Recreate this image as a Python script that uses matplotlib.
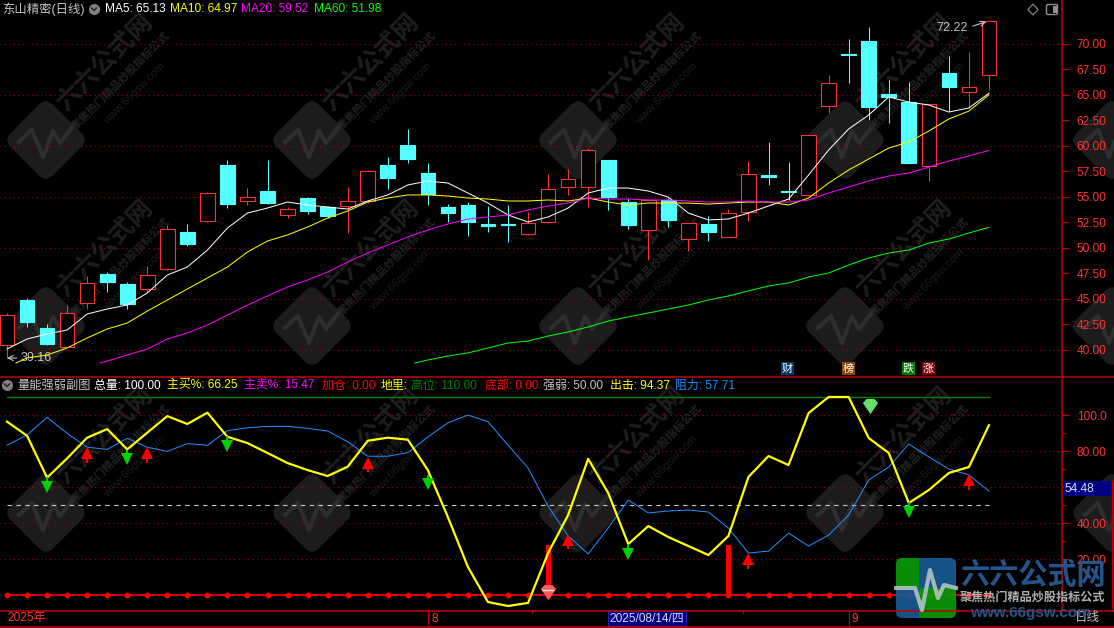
# -*- coding: utf-8 -*-
import matplotlib
matplotlib.use("Agg")
import matplotlib.pyplot as plt
import numpy as np
from matplotlib.patches import FancyBboxPatch, Rectangle, Polygon
from matplotlib.transforms import Affine2D

plt.rcParams['font.family'] = ['Liberation Sans', 'Noto Sans CJK SC']

# price panel
opens = [40.44, 44.85, 42.11, 40.28, 44.53, 47.40, 46.42, 45.96, 47.90, 51.52,
         52.60, 58.09, 54.56, 55.54, 53.19, 54.85, 53.97, 54.07, 54.56, 58.09,
         60.05, 57.30, 53.97, 54.17, 52.30, 52.30, 51.32, 52.53, 55.96, 55.96,
         58.58, 54.46, 51.74, 54.66, 50.80, 52.30, 51.06, 53.50, 57.10, 55.55,
         55.12, 63.90, 69.00, 70.25, 65.05, 64.26, 58.02, 67.08, 65.20, 66.88]
closes = [43.35, 42.73, 40.54, 43.55, 46.49, 46.65, 44.46, 47.27, 51.82, 50.34,
          55.31, 54.26, 54.98, 54.36, 53.78, 53.58, 53.10, 54.56, 57.50, 56.81,
          58.67, 55.25, 53.38, 52.53, 52.10, 52.20, 52.37, 55.71, 56.69, 59.53,
          54.95, 52.20, 54.66, 52.70, 52.37, 51.52, 53.35, 57.18, 56.95, 55.40,
          61.00, 66.10, 68.90, 63.80, 64.80, 58.30, 64.04, 65.76, 65.70, 72.20]
highs = [43.58, 45.05, 42.50, 44.36, 47.20, 47.60, 46.62, 48.20, 52.20, 52.30,
         55.40, 58.58, 55.80, 58.58, 53.97, 54.95, 54.07, 55.90, 57.60, 58.87,
         61.62, 58.28, 54.26, 54.46, 54.07, 54.17, 53.48, 57.20, 57.67, 59.75,
         58.58, 54.85, 54.66, 54.85, 52.40, 53.10, 53.77, 58.48, 60.34, 58.40,
         61.03, 66.90, 70.40, 71.60, 66.40, 66.20, 64.07, 68.77, 69.17, 72.22]
lows = [39.16, 42.24, 40.40, 40.25, 44.00, 45.67, 44.00, 45.57, 47.80, 50.15,
        52.50, 53.90, 54.20, 54.30, 52.90, 53.30, 52.90, 51.40, 54.36, 55.74,
        58.28, 54.17, 52.50, 51.13, 51.50, 50.54, 51.20, 52.43, 55.15, 53.97,
        53.68, 51.80, 48.77, 52.00, 49.66, 50.64, 51.00, 52.60, 56.13, 54.66,
        54.95, 63.20, 66.16, 62.50, 62.20, 58.30, 56.50, 63.40, 63.65, 65.44]

ma5 = [40.05, 41.03, 41.52, 41.91, 43.48, 43.97, 44.36, 45.54, 47.30, 48.09,
       49.75, 51.91, 53.38, 53.87, 54.46, 54.17, 53.97, 53.77, 54.56, 55.15,
       56.13, 56.52, 56.32, 55.34, 54.36, 53.19, 52.50, 52.99, 53.87, 55.34,
       55.83, 55.83, 55.54, 54.95, 53.38, 52.70, 52.80, 53.38, 54.07, 54.75,
       57.11, 59.56, 61.62, 62.99, 64.76, 64.26, 63.97, 63.28, 63.68, 65.13]
ma10_days = [0.45] + list(range(1, 50))
ma10 = [38.68, 39.17, 39.46, 40.15, 41.13, 42.01, 42.60, 43.77, 44.85, 45.93,
        47.01, 48.09, 49.56, 50.64, 51.23, 52.01, 52.89, 53.58, 54.46, 54.85,
        55.15, 55.15, 55.05, 54.85, 54.75, 54.56, 54.56, 54.66, 54.56, 54.85,
        54.46, 54.17, 54.36, 54.36, 54.36, 54.26, 54.36, 54.46, 54.46, 54.17,
        54.85, 56.32, 57.60, 58.68, 59.75, 60.34, 61.42, 62.60, 63.38, 64.97]
ma20_days = [4.65] + list(range(5, 50))
ma20 = [38.68, 38.87, 39.46, 40.05, 41.03, 41.62, 42.40, 43.38, 44.36, 45.25,
        46.13, 46.81, 47.60, 48.58, 49.46, 50.25, 51.03, 51.72, 52.30, 52.79,
        52.99, 53.19, 53.68, 54.07, 54.36, 54.85, 54.75, 54.75, 54.66, 54.66,
        54.56, 54.46, 54.46, 54.56, 54.46, 54.46, 54.66, 55.34, 55.93, 56.52,
        57.01, 57.30, 57.89, 58.48, 58.97, 59.52]
ma60_days = [20.35] + list(range(21, 50))
ma60 = [38.68, 38.97, 39.36, 39.66, 40.15, 40.64, 40.83, 41.32, 41.72, 42.21,
        42.79, 43.19, 43.58, 43.97, 44.36, 44.85, 45.25, 45.74, 46.23, 46.52,
        47.11, 47.50, 48.29, 48.97, 49.46, 49.75, 50.44, 50.83, 51.42, 51.98]

# indicator panel
chuji = [96.3, 88.5, 65.2, 75.9, 87.4, 92.2, 80.9, 90.2, 99.4, 95.0,
         101.3, 87.9, 84.4, 78.9, 73.3, 69.4, 66.1, 71.3, 85.7, 87.4,
         86.3, 69.4, 43.3, 15.6, -3.9, -6.1, -4.4, 23.3, 44.4, 75.6,
         56.7, 28.3, 38.3, 32.2, 27.2, 22.2, 32.8, 65.6, 77.2, 72.2,
         101.1, 110.0, 110.0, 87.2, 78.9, 51.1, 58.3, 67.8, 71.1, 94.37]
zuli = [83.2, 88.9, 98.7, 89.8, 82.1, 80.9, 87.1, 82.1, 79.8, 84.1,
        83.2, 91.3, 92.9, 93.7, 93.7, 92.6, 91.1, 85.2, 77.1, 77.1,
        79.1, 87.8, 95.6, 100.0, 96.3, 83.3, 70.6, 49.4, 32.8, 22.8,
        37.2, 52.8, 45.6, 46.7, 47.2, 46.1, 37.2, 23.3, 24.4, 34.4,
        27.2, 33.3, 44.4, 63.9, 71.1, 83.9, 76.7, 70.0, 66.7, 57.71]
up_days = [4, 7, 18, 28, 37, 48]
up_tips = [81.1, 81.1, 75.6, 32.8, 22.2, 66.1]
down_days = [2, 6, 11, 21, 31, 45]
down_tips = [57.8, 73.3, 80.6, 59.4, 20.6, 43.9]
bar_days = [27, 36]
bar_values = [27.8, 27.8]
gaowei = 110.0
qiangruo = 50.0

price_ticks = [40, 42.5, 45, 47.5, 50, 52.5, 55, 57.5, 60, 62.5, 65, 67.5, 70]
price_grid = [40, 45, 50, 55, 60, 65, 70]
ind_ticks = [20, 40, 60, 80, 100]
ind_tick_labels = ['20.00', '40.00', '', '80.00', '100.0']
ind_minor = [30, 50, 70, 90]

RED = '#ff3232'
CYAN = '#54ffff'
GRID = '#a80000'
FRAME = '#c00000'
GRAY = '#c4c4c4'

W, H = 1114, 628
days = np.arange(50)
x_lim = (-7 / 20.04, (1062 - 7) / 20.04)

fig = plt.figure(figsize=(W / 100, H / 100), dpi=100, facecolor='black')


def box(x0, y0, x1, y1):
    return [x0 / W, 1 - y1 / H, (x1 - x0) / W, (y1 - y0) / H]


bg = fig.add_axes([0, 0, 1, 1], zorder=0)
bg.set_xlim(0, W)
bg.set_ylim(H, 0)
bg.set_facecolor('black')
bg.axis('off')

ax = fig.add_axes(box(0, 0, 1062, 376), zorder=1)
ax2 = fig.add_axes(box(0, 376, 1062, 610), zorder=1)
top = fig.add_axes([0, 0, 1, 1], zorder=5)
top.set_xlim(0, W)
top.set_ylim(H, 0)
top.axis('off')
top.patch.set_alpha(0)

# watermark
pulse = np.array([(-27, 2), (-14, -10), (-3, 17), (7, -9), (14, 3), (29, -16)])
for cy in [140, 326, 513]:
    for cx in [46, 312, 578, 845, 1112]:
        tr = Affine2D().rotate_deg(45).translate(cx, cy) + bg.transData
        bg.add_patch(FancyBboxPatch((-24, -24), 48, 48, boxstyle='round,pad=6,rounding_size=10',
                                    fc='#1c1c1c', ec='none', transform=tr))
        bg.plot(pulse[:, 0] + cx, pulse[:, 1] + cy, color='#2e2e2e', lw=3)
        if cx > 1000:
            continue
        bg.text(cx + 59, cy - 78, '六六公式网', color='#1e1e1e', fontsize=18, fontweight='bold',
                rotation=45, ha='center', va='center', rotation_mode='anchor')
        bg.text(cx + 74, cy - 60, '聚焦热门精品炒股指标公式', color='#222222', fontsize=8, fontweight='bold',
                rotation=45, ha='center', va='center', rotation_mode='anchor')
        bg.text(cx + 89, cy - 47, 'www.66gsw.com', color='#1c1c1c', fontsize=8,
                rotation=45, ha='center', va='center', rotation_mode='anchor')

# price panel
for a in (ax, ax2):
    a.patch.set_alpha(0)
    a.set_xlim(*x_lim)
    a.set_xticks([])
    for s in a.spines.values():
        s.set_visible(False)
    a.yaxis.tick_right()

ax.set_ylim(74.265 - 376 / 10.2, 74.265)
ax2.set_ylim(-15 / 1.8, 219 / 1.8)

for g in price_grid:
    ax.axhline(g, color=GRID, lw=0.72, ls=(0, (1, 3.5)), zorder=1)
for g in ind_ticks:
    ax2.axhline(g, color=GRID, lw=0.72, ls=(0, (1, 3.5)), zorder=1)

for i in days:
    is_up = closes[i] >= opens[i] and i not in (24, 25, 38, 39, 42, 44)
    c = RED if is_up else CYAN
    ax.vlines(i, lows[i], highs[i], color=c, lw=0.72, zorder=2)
    ax.bar(i, abs(closes[i] - opens[i]), 0.73, bottom=min(opens[i], closes[i]),
           facecolor='black' if is_up else c, edgecolor=c, lw=0.8, zorder=3)

ax.plot(days, ma5, color='white', lw=0.72, zorder=4)
ax.plot(ma10_days, ma10, color='#ffff00', lw=0.72, zorder=4)
ax.plot(ma20_days, ma20, color='#ff00ff', lw=0.72, zorder=4)
ax.plot(ma60_days, ma60, color='#00ff00', lw=0.72, zorder=4)

ax.annotate('72.22', xy=(49, 72.22), xytext=(-53, -7), textcoords='offset pixels', color=GRAY,
            fontsize=9, ha='left', va='center', annotation_clip=False,
            arrowprops=dict(arrowstyle='->', color=GRAY, lw=0.8, relpos=(1, 0.5), shrinkA=2, shrinkB=2))
ax.annotate('39.16', xy=(0, 39.16), xytext=(14, 0), textcoords='offset pixels', color=GRAY,
            fontsize=9, ha='left', va='center',
            arrowprops=dict(arrowstyle='->', color=GRAY, lw=0.8, relpos=(0, 0.5), shrinkA=1, shrinkB=0))

ax.set_yticks(price_ticks)
ax.set_yticklabels(['%.2f' % t for t in price_ticks])
ax.tick_params(axis='y', colors=FRAME, labelcolor=RED, length=5, width=0.8, pad=5.5, labelsize=8.6)

# indicator panel
ax2.plot([0, 49], [gaowei, gaowei], color='#008000', lw=1, zorder=2)
ax2.plot([0, 49], [qiangruo, qiangruo], color='#cccccc', lw=0.8, ls=(0, (4, 4)), zorder=2)
ax2.plot(days, np.zeros(50), color='#ff0000', lw=1.2, marker='o', ms=4.2, mew=0, zorder=2)
ax2.bar(bar_days, bar_values, 0.25, color='#ff0000', zorder=3)
ax2.plot(days, zuli, color='#1e90ff', lw=0.72, zorder=4)
ax2.plot(days, chuji, color='#ffff00', lw=1.6, zorder=5)

ax2.vlines(up_days, np.array(up_tips) - 7.5, np.array(up_tips) - 2, color='#ff0000', lw=1.5, zorder=6)
ax2.plot(up_days, np.array(up_tips) - 2, ls='', marker='^', ms=8.5, mew=0, color='#ff0000', zorder=6)
ax2.vlines(down_days, np.array(down_tips) + 2, np.array(down_tips) + 7.5, color='#00d000', lw=1.5, zorder=6)
ax2.plot(down_days, np.array(down_tips) + 2, ls='', marker='v', ms=8.5, mew=0, color='#00d000', zorder=6)

gem = [(-1, 0.45), (-0.5, 1), (0.5, 1), (1, 0.45), (0, -1)]
ax2.plot([27], [1.5], ls='', marker=gem, ms=11, mew=0, color='#ff5a5a', zorder=7)
ax2.plot([27], [3], ls='', marker='_', ms=9, mew=1, color='#ffe0e0', zorder=7)
ax2.plot([43.05], [105.2], ls='', marker=gem, ms=11, mew=0, color='#66e066', zorder=7)

ax2.set_yticks(ind_ticks)
ax2.set_yticklabels(ind_tick_labels)
ax2.set_yticks(ind_minor, minor=True)
ax2.tick_params(axis='y', which='major', colors=FRAME, labelcolor=RED, length=5, width=0.8, pad=5.5, labelsize=8.6)
ax2.tick_params(axis='y', which='minor', colors=FRAME, length=3, width=0.8)

# frame
top.plot([0, W], [376.5, 376.5], color=FRAME, lw=1.1)
top.plot([0, W], [610.5, 610.5], color=FRAME, lw=1.1)
top.plot([0, W], [626.5, 626.5], color=FRAME, lw=1.1)
top.plot([1062, 1062], [0, 610], color=FRAME, lw=1.1)
top.plot([1112, 1112], [481, 610], color=FRAME, lw=1)
top.plot([428, 428], [610, 626], color=FRAME, lw=0.8)
top.plot([849, 849], [610, 626], color=FRAME, lw=0.8)
top.plot([532, 532], [610, 613], color=FRAME, lw=0.8)
top.plot([743, 743], [610, 613], color=FRAME, lw=0.8)

# date bar
top.text(7, 618.5, '2025年', color=RED, fontsize=8.6, va='center')
top.text(431, 618.5, '8', color=RED, fontsize=8.6, va='center')
top.text(851, 618.5, '9', color=RED, fontsize=8.6, va='center')
top.add_patch(Rectangle((607.5, 611), 78, 14.5, fc='#000080', ec='#2020c0', lw=0.8))
top.text(609, 618.5, '2025/08/14/四', color='#d8d8ff', fontsize=8.6, va='center')
top.text(1075, 618.5, '日线', color=GRAY, fontsize=9, va='center')
top.add_patch(Rectangle((1063.5, 481), 48, 15, fc='#000080', ec='none'))
top.text(1064.5, 488.5, '54.48', color='#d8d8ff', fontsize=8.6, va='center')


# header strips
def strip(items, y):
    for x, s, c in items:
        top.text(x, y, s, color=c, fontsize=8.6, va='center')


top.text(2, 9.5, '东山精密(日线)', color=GRAY, fontsize=8.9, va='center')
strip([(105, 'MA5: 65.13', 'white'), (170, 'MA10: 64.97', '#ffff00'),
       (241, 'MA20: 59.52', '#ff00ff'), (314, 'MA60: 51.98', '#00ff00')], 9.5)
top.text(17, 385.5, '量能强弱副图', color=GRAY, fontsize=8.8, va='center')
strip([(94, '总量: 100.00', 'white'), (167, '主买%: 66.25', '#ffff00'),
       (244, '主卖%: 15.47', '#ff00ff'), (322, '加仓: 0.00', '#ff0000'),
       (381, '地里:', '#ffff00'), (411, '高位: 110.00', '#008000'),
       (485, '底部: 0.00', '#ff0000'), (543, '强弱: 50.00', GRAY),
       (610, '出击: 94.37', '#ffff00'), (675, '阻力: 57.71', '#1e90ff')], 385.5)

for cx, cy in [(94, 9), (7, 385)]:
    top.plot([cx], [cy], marker='o', ms=8, mew=0, color='#808080')
    top.plot([cx - 2.5, cx, cx + 2.5], [cy - 1, cy + 1.5, cy - 1], color='#202020', lw=1)

# top right icons
top.add_patch(Polygon([(1033, 4), (1038, 9.5), (1033, 15), (1028, 9.5)], fc='none', ec='#808080', lw=0.9))
top.add_patch(FancyBboxPatch((1047, 5), 10, 9, boxstyle='round,pad=0.5,rounding_size=1.5',
                             fc='none', ec='#909090', lw=1))
top.add_patch(Rectangle((1052.5, 6), 4, 7, fc='#909090', ec='none'))

# event tags
for x0, s, c in [(781, '财', '#003a70'), (842, '榜', '#8b4500'), (902, '跌', '#007a00'), (922, '涨', '#800000')]:
    top.add_patch(Rectangle((x0, 362), 13, 13, fc=c, ec='none'))
    top.text(x0 + 6.5, 368.5, s, color='white', fontsize=8, ha='center', va='center')

# logo bottom right
logo = FancyBboxPatch((899, 561), 54, 54, boxstyle='round,pad=3,rounding_size=6',
                      fc='none', ec='none', transform=top.transData)
top.add_patch(logo)
for rx, ry, rw, rh, c in [(896, 558, 23, 30, '#089a08'), (919, 558, 37, 30, '#1a5a94'),
                          (896, 588, 23, 30, '#1a5a94'), (919, 588, 37, 30, '#089a08')]:
    r = Rectangle((rx, ry), rw, rh, fc=c, ec='none', alpha=0.92)
    top.add_patch(r)
    r.set_clip_path(logo)
top.plot([896, 915, 922, 930, 938, 944, 956], [588, 588, 610, 570, 598, 585, 588],
         color='#b8c8c8', lw=3, alpha=0.85)
top.text(960, 576, '六六公式网', color='#24558a', fontsize=21, fontweight='bold', va='center')
top.text(960, 598, '聚焦热门精品炒股指标公式', color='#b0b0b0', fontsize=8.7, fontweight='bold', va='center')
top.text(970, 613, 'www.66gsw.com', color='#24558a', fontsize=11, fontweight='bold', va='center')

fig.savefig('out.png', dpi=100, facecolor='black')
